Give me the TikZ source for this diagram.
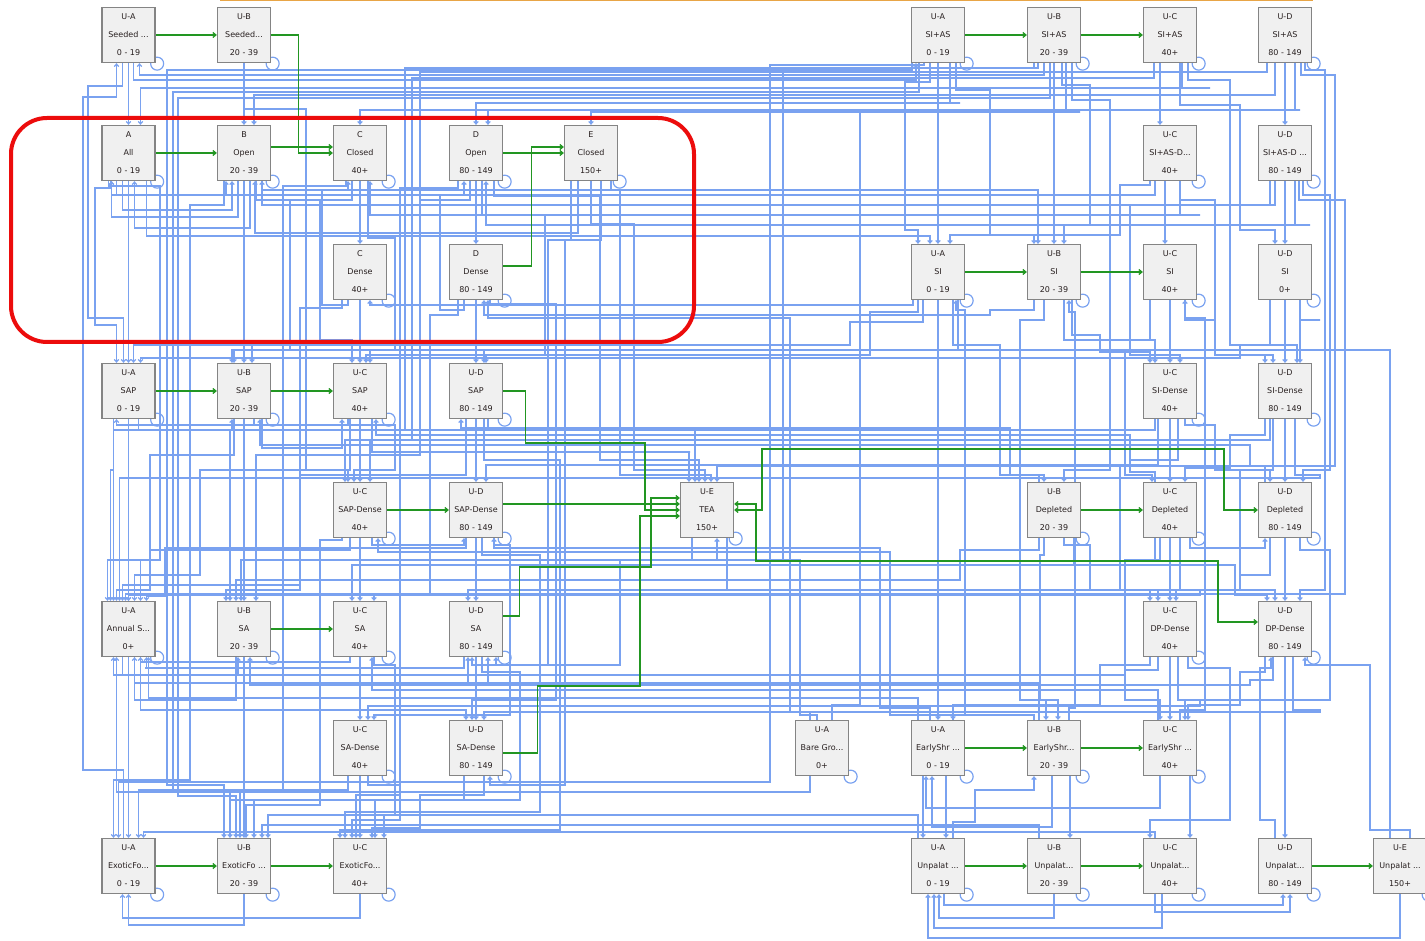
\documentclass[tikz,border=0pt]{standalone}
\usepackage{fontspec}
\setmainfont{DejaVu Sans}
\usetikzlibrary{arrows.meta,calc,backgrounds}
\definecolor{blu}{RGB}{122,162,240}
\definecolor{grn}{RGB}{34,150,34}
\definecolor{boxfill}{RGB}{240,240,240}
\definecolor{boxline}{RGB}{132,132,132}
\definecolor{txt}{RGB}{40,32,32}
\definecolor{orn}{RGB}{232,165,70}
\definecolor{redl}{RGB}{236,12,12}
\tikzset{
  box/.style={draw=boxline, fill=boxfill, line width=1.3pt, minimum width=53pt, minimum height=55pt,
    inner sep=0pt, align=center, font=\fontsize{8}{18}\selectfont, text=txt},
  bl/.style={draw=blu, line width=1.2pt},
  blarr/.style={bl, -{Straight Barb[length=2.5pt,width=4.5pt]}},
  gr/.style={draw=grn, line width=1.3pt, -{Straight Barb[length=3pt,width=5pt]}},
  grboth/.style={draw=grn, line width=1.3pt, {Straight Barb[length=3pt,width=5pt]}-{Straight Barb[length=3pt,width=5pt]}},
  loopc/.style={draw=blu, line width=1.2pt}
}
\newcommand\bx[5]{\node[box] (#1) at (#2) {#3\\#4\\#5};}
\begin{document}
\begin{tikzpicture}[x=1pt,y=-1pt]
\useasboundingbox (0,0) rectangle (1425,941);
% row 1
\bx{sdA}{128.5,35}{U-A}{Seeded ...}{0 - 19}
\bx{sdB}{244,35}{U-B}{Seeded...}{20 - 39}
\bx{siasA}{938,35}{U-A}{SI+AS}{0 - 19}
\bx{siasB}{1054,35}{U-B}{SI+AS}{20 - 39}
\bx{siasC}{1170,35}{U-C}{SI+AS}{40+}
\bx{siasD}{1285,35}{U-D}{SI+AS}{80 - 149}
% row 2
\bx{oA}{128.5,153}{A}{All}{0 - 19}
\bx{oB}{244,153}{B}{Open}{20 - 39}
\bx{cC}{360,153}{C}{Closed}{40+}
\bx{oD}{476,153}{D}{Open}{80 - 149}
\bx{cE}{591,153}{E}{Closed}{150+}
\bx{sadC}{1170,153}{U-C}{SI+AS-D...}{40+}
\bx{sadD}{1285,153}{U-D}{SI+AS-D ...}{80 - 149}
% row 3
\bx{dC}{360,272}{C}{Dense}{40+}
\bx{dD}{476,272}{D}{Dense}{80 - 149}
\bx{siA}{938,272}{U-A}{SI}{0 - 19}
\bx{siB}{1054,272}{U-B}{SI}{20 - 39}
\bx{siC}{1170,272}{U-C}{SI}{40+}
\bx{siD}{1285,272}{U-D}{SI}{0+}
% row 4
\bx{sapA}{128.5,391}{U-A}{SAP}{0 - 19}
\bx{sapB}{244,391}{U-B}{SAP}{20 - 39}
\bx{sapC}{360,391}{U-C}{SAP}{40+}
\bx{sapD}{476,391}{U-D}{SAP}{80 - 149}
\bx{sidC}{1170,391}{U-C}{SI-Dense}{40+}
\bx{sidD}{1285,391}{U-D}{SI-Dense}{80 - 149}
% row 5
\bx{spdC}{360,510}{U-C}{SAP-Dense}{40+}
\bx{spdD}{476,510}{U-D}{SAP-Dense}{80 - 149}
\bx{tea}{707,510}{U-E}{TEA}{150+}
\bx{dpB}{1054,510}{U-B}{Depleted}{20 - 39}
\bx{dpC}{1170,510}{U-C}{Depleted}{40+}
\bx{dpD}{1285,510}{U-D}{Depleted}{80 - 149}
% row 6
\bx{saA}{128.5,629}{U-A}{Annual S...}{0+}
\bx{saB}{244,629}{U-B}{SA}{20 - 39}
\bx{saC}{360,629}{U-C}{SA}{40+}
\bx{saD}{476,629}{U-D}{SA}{80 - 149}
\bx{dpdC}{1170,629}{U-C}{DP-Dense}{40+}
\bx{dpdD}{1285,629}{U-D}{DP-Dense}{80 - 149}
% row 7
\bx{sadnC}{360,748}{U-C}{SA-Dense}{40+}
\bx{sadnD}{476,748}{U-D}{SA-Dense}{80 - 149}
\bx{bare}{822,748}{U-A}{Bare Gro...}{0+}
\bx{esA}{938,748}{U-A}{EarlyShr ...}{0 - 19}
\bx{esB}{1054,748}{U-B}{EarlyShr...}{20 - 39}
\bx{esC}{1170,748}{U-C}{EarlyShr ...}{40+}
% row 8
\bx{exA}{128.5,866}{U-A}{ExoticFo...}{0 - 19}
\bx{exB}{244,866}{U-B}{ExoticFo ...}{20 - 39}
\bx{exC}{360,866}{U-C}{ExoticFo...}{40+}
\bx{unA}{938,866}{U-A}{Unpalat ...}{0 - 19}
\bx{unB}{1054,866}{U-B}{Unpalat...}{20 - 39}
\bx{unC}{1170,866}{U-C}{Unpalat...}{40+}
\bx{unD}{1285,866}{U-D}{Unpalat...}{80 - 149}
\bx{unE}{1400,866}{U-E}{Unpalat ...}{150+}

\begin{pgfonlayer}{background}
% self loops
\foreach \n in {sdA,sdB,siasA,siasB,siasC,siasD,oA,oB,cC,oD,cE,sadC,sadD,dC,dD,siA,siB,siC,siD,
  sapA,sapB,sapC,sapD,sidC,sidD,spdC,spdD,tea,dpB,dpC,dpD,saA,saB,saC,saD,dpdC,dpdD,
  sadnC,sadnD,bare,esA,esB,esC,exA,exB,exC,unA,unB,unC,unD,unE}
  \draw[loopc] ($(\n.south east)+(1.5,0.5)$) circle[radius=6.5pt];
% blue connectors: source / dx / lane1 / channel / lane2 / target / dx
\foreach \srcN/\srcD/\yA/\cX/\yB/\dstN/\dstD in {
 exA.north/-5/770/83/97/sdA.south/-12,
 sdA.south/-6/86/88/318/sapA.north/-5,
 sdA.south/0/100/128.5/100/oA.north/0,
 sdA.south/5/80/880/80/siasA.south/-22,
 siasB.south/-10/75/1000/75/sdA.south/11,
 sdB.south/0/100/244/100/oB.north/0,
 sdB.south/0/109/306/470/spdC.north/-12,
 siasA.south/-26/70/167/785/exB.north/-20,
 siasA.south/-19/92/173/790/exB.north/-14,
 siasB.south/-4/98/178/796/exB.north/-8,
 oA.south/0/320/128.5/320/sapA.north/0,
 oA.south/-12/195/180/195/oB.south/-18,
 oA.south/-6/210/180/210/oB.south/-12,
 oB.south/-6/217/180/217/oA.south/-17,
 oB.south/6/228/180/228/oA.south/6,
 cE.south/-13/233/300/233/oB.south/11,
 cE.south/0/224/634/470/tea.north/-2,
 cC.south/0/230/360/230/dC.north/0,
 dC.south/-12/305/322/190/cC.south/-12,
 oD.south/0/230/476/230/dD.north/0,
 dD.south/-12/310/440/195/oD.south/-12,
 oB.south/0/330/244/330/sapB.north/0,
 oB.south/12/200/320/340/sapC.north/-8,
 dC.south/0/330/360/330/sapC.north/0,
 dD.south/0/330/476/330/sapD.north/0,
 oD.south/-6/200/420/345/sapB.north/8,
 oD.south/6/215/545/355/sapD.north/10,
 cC.south/8/238/395/350/sapC.north/10,
 oA.south/18/236/900/236/siA.north/-8,
 oB.south/18/190/1000/190/siB.north/-16,
 oA.south/-18/188/95/325/sapA.north/-12,
 cC.south/-8/200/290/350/sapB.north/-12,
 oA.south/-20/186/160/560/saA.north/-21,
 oB.south/-20/205/190/780/exA.north/-15,
 cC.south/-14/186/283/790/exB.north/-4,
 oD.south/-18/188/400/795/exC.north/-4,
 cE.south/-20/240/565/785/sadnD.south/14,
 dC.south/-18/308/300/590/saB.north/-18,
 dD.south/-18/315/430/595/saC.north/14,
 oD.south/18/196/600/460/tea.north/-8,
 cE.south/20/190/620/475/tea.north/4,
 siasA.south/0/120/938/120/siA.north/0,
 siasB.south/0/120/1054/120/siB.north/0,
 siasC.south/-10/120/1160/120/sadC.north/-10,
 sadC.south/-5/190/1165/190/siC.north/-5,
 siasD.south/0/115/1285/115/sadD.north/0,
 sadD.south/0/190/1285/190/siD.north/0,
 siD.south/0/330/1285/330/sidD.north/0,
 siC.south/0/330/1170/330/sidC.north/0,
 sidC.south/0/450/1170/450/dpC.north/0,
 sidD.south/0/450/1285/450/dpD.north/0,
 dpC.south/0/570/1170/570/dpdC.north/0,
 dpD.south/0/570/1285/570/dpdD.north/0,
 siA.south/0/330/938/700/esA.north/0,
 siB.south/-10/320/1020/700/esB.north/-8,
 siasA.south/-8/82/905/230/siA.north/-20,
 siasB.south/8/85/1090/225/siB.north/10,
 siasC.south/10/105/1240/230/siD.north/-10,
 sadC.south/10/200/1215/355/sidD.north/-12,
 sadD.south/-10/205/1130/355/sidC.north/10,
 siB.south/10/340/1110/470/dpB.north/10,
 siA.south/15/345/1000/475/dpB.north/-10,
 sidC.south/-12/465/1120/590/dpdC.north/-12,
 sidD.south/-12/470/1240/590/dpdD.north/-10,
 dpB.south/-10/555/1040/700/esB.north/4,
 dpC.south/-10/560/1125/700/esC.north/-10,
 dpdC.south/0/690/1170/690/esC.north/0,
 dpdD.south/0/700/1285/780/unD.north/0,
 esC.south/-10/808/1100/808/esA.south/-12,
 esB.south/-2/827/1000/827/esA.south/-6,
 esA.south/8/800/946/800/unA.north/8,
 esA.south/-15/790/923/790/unA.north/-15,
 esB.south/16/785/1070/785/unB.north/16,
 esC.south/20/800/1190/800/unC.north/20,
 unC.south/-8/928/1000/928/unA.south/-4,
 unB.south/0/918/1000/918/unA.south/1,
 unA.south/6/905/1000/905/unD.south/-2,
 unC.south/-15/912/1200/912/unD.south/5,
 unE.south/0/938/1300/938/unA.south/-10,
 unE.north/-10/350/1388/350/sapD.north/8,
 siasA.south/18/90/990/235/siB.north/-20,
 siasB.south/18/100/1110/340/sidC.north/-15,
 siasC.south/18/80/1230/345/sidD.north/12,
 siasD.south/20/70/1325/590/dpdD.north/15,
 sadC.south/-20/185/1120/235/siA.north/12,
 sadD.south/18/195/1330/470/dpD.north/18,
 siA.south/20/350/1125/475/dpC.north/-18,
 siB.south/18/335/1100/352/sidC.north/-20,
 siC.south/15/320/1215/355/sidD.north/-20,
 siD.south/15/320/1320/320/sidD.north/15,
 sidC.south/15/425/1215/470/dpD.north/-15,
 sidD.south/-20/435/1230/468/dpC.north/15,
 dpB.south/10/545/1090/590/dpdC.north/-20,
 dpB.south/20/565/1235/595/dpdD.north/-18,
 dpC.south/20/548/1220/548/dpD.south/-20,
 dpD.south/15/550/1330/700/esC.north/15,
 dpdC.south/-20/665/1100/705/esA.north/15,
 dpdC.south/18/668/1230/820/unC.north/-20,
 dpdD.south/-20/672/1240/705/esC.north/18,
 esA.north/15/715/965/310/siA.south/18,
 esB.north/15/708/1075/312/siB.south/15,
 esC.north/10/710/1205/318/siC.south/15,
 unD.north/-10/820/1260/668/dpdD.south/-14,
 unE.north/10/830/1370/665/dpdD.south/20,
 unA.north/15/822/975/790/esB.south/-20,
 bare.south/-12/792/700/792/saA.south/-12,
 bare.north/-12/712/790/318/dD.south/12,
 bare.north/10/705/860/110/oD.north/12,
 bare.north/-5/715/800/560/tea.south/10,
 sapA.south/0/440/128.5/440/saA.north/0,
 sapB.south/0/440/244/440/saB.north/0,
 sapC.south/0/440/360/440/spdC.north/0,
 sapD.south/0/440/476/440/spdD.north/0,
 spdC.south/0/560/360/560/saC.north/0,
 spdD.south/0/560/476/560/saD.north/0,
 saC.south/0/690/360/690/sadnC.north/0,
 saD.south/0/690/476/690/sadnD.north/0,
 sadnC.south/0/810/360/810/exC.north/0,
 saA.south/0/800/128.5/800/exA.north/0,
 saB.south/0/800/244/800/exB.north/0,
 sapA.south/-15/470/110/470/saA.north/-18,
 sapB.south/-10/455/150/560/saA.north/12,
 sapC.south/-10/470/200/575/saA.north/6,
 sapD.south/-10/475/300/585/saA.north/-6,
 spdC.south/-10/550/150/590/saA.north/-12,
 spdD.south/-10/548/165/596/saA.north/18,
 sapA.south/10/430/200/430/sapB.south/-12,
 sapB.south/10/425/395/470/spdC.north/-6,
 sapC.south/-12/425/290/425/sapA.south/-12,
 sapD.south/12/430/520/430/tea.north/-12,
 sapB.south/18/448/290/448/sapC.south/-18,
 spdC.south/12/545/395/545/spdD.south/-12,
 spdC.south/-18/540/320/805/exB.north/2,
 spdD.south/18/545/510/715/sadnC.north/14,
 saC.south/14/665/395/815/exB.north/24,
 tea.south/-15/560/620/665/saD.south/20,
 saA.south/-6/675/200/675/saB.south/-6,
 saB.south/-8/700/180/700/saA.south/6,
 saA.south/6/683/550/683/saD.south/-8,
 saA.south/12/710/420/710/sadnD.north/-10,
 saC.south/-10/662/250/662/saA.south/12,
 saD.south/-12/668/145/668/saA.south/18,
 sadnC.south/-12/790/140/790/exA.north/10,
 sadnD.south/-12/800/230/800/exB.north/10,
 sadnC.south/8/785/400/820/exC.north/-8,
 sadnD.south/8/795/420/828/exC.north/12,
 exB.south/0/925/186/925/exA.south/0,
 exC.south/0/918/186/918/exA.south/-6,
 saD.south/6/672/520/800/exC.north/15,
 spdD.south/6/555/540/812/exC.north/-15,
 sapD.south/8/460/560/830/exC.north/-20,
 siA.south/-25/305/880/305/dC.south/10,
 siA.south/-20/312/870/355/sapC.north/6,
 siA.south/-15/322/850/345/sapA.north/5,
 siB.south/-20/310/990/315/dD.south/8,
 siC.south/-20/340/1110/350/sapB.north/-10,
 siD.south/-15/345/1240/358/sapA.north/12,
 sidC.south/-15/430/1100/430/saA.north/-15,
 sidD.south/-15/440/1250/440/spdC.north/10,
 sidC.south/8/460/1130/465/spdD.north/10,
 sidD.south/10/475/1320/478/saA.north/-9,
 dpB.north/-15/475/1010/428/sapD.south/-15,
 dpC.north/-15/472/1130/435/sapC.south/16,
 dpD.north/-20/466/1250/445/sapB.south/16,
 dpB.south/-15/550/960/580/saB.north/-8,
 dpC.south/-15/560/1125/565/saC.north/-8,
 dpD.south/-15/575/1240/590/saD.north/-8,
 dpC.south/10/590/1200/595/saA.north/0,
 dpdC.south/-12/670/1125/675/saA.south/-15,
 dpdD.south/-12/680/1250/685/saB.south/6,
 dpdC.south/8/700/1200/706/sadnC.north/8,
 dpdD.south/8/710/1320/712/sadnD.north/8,
 esC.north/-12/690/1100/690/saC.south/12,
 esB.north/-15/683/1030/683/saD.south/12,
 esA.north/-20/698/900/698/saA.south/20,
 esA.north/-8/708/880/548/spdD.south/18,
 esB.north/-20/715/890/552/spdC.south/18,
 unA.north/-20/815/900/815/exC.north/24,
 unB.north/-15/825/1030/825/exB.north/18,
 unC.north/-15/832/1140/832/exA.north/15,
 sadC.south/-15/195/1140/195/oA.south/-17,
 sadD.south/-15/205/1250/205/oB.south/18,
 sadC.south/10/215/1200/215/cC.south/10,
 sadD.south/10/225/1310/225/oD.south/10,
 siasC.south/12/88/1210/88/oA.north/12,
 siasD.south/-10/95/1250/95/oB.north/10,
 siasD.south/10/110/1300/110/cC.north/0,
 siasA.south/12/103/960/103/oD.north/0,
 siasB.south/12/112/1080/112/cE.north/0,
 siasB.south/-16/68/405/430/saB.north/-14,
 siasC.south/-16/78/412/440/spdC.north/-15,
 siasD.south/-18/72/420/455/saB.north/12,
 cE.south/10/240/548/665/saD.south/-4,
 dD.south/14/304/556/700/sadnD.north/-4,
 siasA.south/-14/65/770/782/exA.north/-10,
 siasB.south/-20/68/783/560/saB.north/-3,
 siasD.south/16/75/1335/466/tea.north/10,
 sadD.south/14/200/1345/594/saA.north/-3,
 sapC.south/12/452/690/452/tea.north/-18,
 tea.south/20/590/730/590/dpdC.north/6}
 \draw[blarr] ($(\srcN)+(\srcD,0)$) |- (\cX,\yA) -- (\cX,\yB) -| ($(\dstN)+(\dstD,0)$);

% green connectors
\draw[gr] (sdA.east) -- (sdB.west);
\draw[gr] (sdB.east) -- ++(27.5,0) |- (cC.west);
\draw[gr] (oA.east) -- (oB.west);
\draw[gr] ($(oB.east)+(0,-6)$) -- ($(cC.west)+(0,-6)$);
\draw[gr] (oD.east) -- (cE.west);
\draw[gr] ($(dD.east)+(0,-6)$) -- ++(28,0) |- ($(cE.west)+(0,-6)$);
\draw[gr] (sapA.east) -- (sapB.west);
\draw[gr] (sapB.east) -- (sapC.west);
\draw[gr] (sapD.east) -- ++(22.5,0) |- (645,443) |- (tea.west);
\draw[gr] (spdC.east) -- (spdD.west);
\draw[gr] ($(spdD.east)+(0,-6)$) -- ($(tea.west)+(0,-6)$);
\draw[gr] ($(saD.east)+(0,-13)$) -- ++(16.5,0) |- (651,567) |- ($(tea.west)+(0,-12)$);
\draw[gr] ($(sadnD.east)+(0,5)$) -- ++(34,0) |- (640,686) |- ($(tea.west)+(0,6)$);
\draw[gr] (saB.east) -- (saC.west);
\draw[grboth] (tea.east) -| (762,449) -| (1224,510) -- (dpD.west);
\draw[grboth] ($(tea.east)+(0,-6)$) -| (756,561) -| (1218,622) -- ($(dpdD.west)+(0,-7)$);
\draw[gr] (dpB.east) -- (dpC.west);
\draw[gr] (esA.east) -- (esB.west);
\draw[gr] (esB.east) -- (esC.west);
\draw[gr] (exA.east) -- (exB.west);
\draw[gr] (exB.east) -- (exC.west);
\draw[gr] (unA.east) -- (unB.west);
\draw[gr] (unB.east) -- (unC.west);
\draw[gr] (unD.east) -- (unE.west);
\draw[gr] (siasA.east) -- (siasB.west);
\draw[gr] (siasB.east) -- (siasC.west);
\draw[gr] (siA.east) -- (siB.west);
\draw[gr] (siB.east) -- (siC.west);
\end{pgfonlayer}

% highlight marks
\draw[orn, line width=3pt] (220,0) -- (1313,0);
\draw[redl, line width=4pt, rounded corners=36pt] (11,118) rectangle (694,342);
\end{tikzpicture}
\end{document}
